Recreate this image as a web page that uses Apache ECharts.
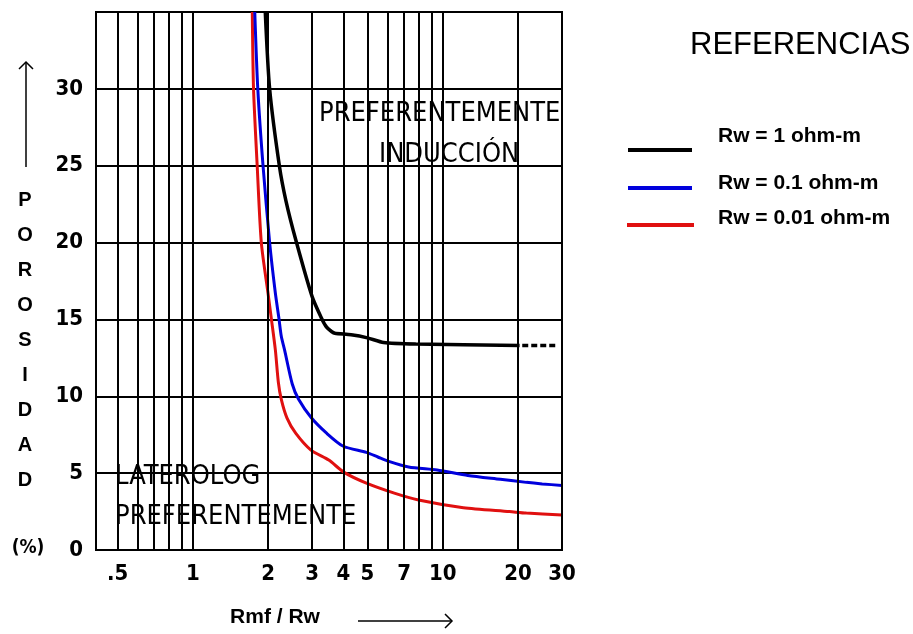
<!DOCTYPE html>
<html><head><meta charset="utf-8">
<script src="https://cdn.jsdelivr.net/npm/echarts@6/dist/echarts.min.js"></script>
<style>html,body{margin:0;padding:0;background:#fff}#c{width:913px;height:634px}</style>
</head><body><div id="c"></div>
<script>
// x grid lines and tick labels (Rmf / Rw, log scale)
const xGridValues = [0.5,0.6,0.7,0.8,0.9,1,2,3,4,5,6,7,8,9,10,20,30];
const xLabelValues = [0.5,1,2,3,4,5,7,10,20,30];
const xLabelTexts = ['.5','1','2','3','4','5','7','10','20','30'];
// y ticks (porosidad %)
const yMin = 0, yMax = 35, yStep = 5;

// Rw = 1 ohm-m (black)
const rw1X = [1.95,2.03,2.22,2.36,2.59,3.0,3.27,3.43,3.6,3.7,4.3,5.0,5.8,7.8,20.3];
const rw1Y = [35,30,25,22.7,20.1,16.5,15.1,14.5,14.2,14.1,14.0,13.8,13.5,13.4,13.3];
// Rw = 1 ohm-m dotted extension
const rw1DotX = [20.8,28.8];
const rw1DotY = [13.3,13.3];
// Rw = 0.1 ohm-m (blue)
const rw01X = [1.77,1.82,1.91,2.03,2.14,2.21,2.26,2.33,2.5,2.65,2.98,3.43,4.0,4.95,5.5,6.0,7.3,9.5,12.6,17,21.6,25,30];
const rw01Y = [35,30,25,20,16.7,15.1,13.9,13.0,10.8,9.8,8.6,7.6,6.75,6.35,6.05,5.8,5.4,5.2,4.85,4.6,4.4,4.3,4.2];
// Rw = 0.01 ohm-m (red)
const rw001X = [1.73,1.75,1.81,1.88,2.0,2.06,2.14,2.2,2.26,2.38,2.58,2.97,3.5,4.03,4.95,6.4,8,12.1,18.5,21.6,30];
const rw001Y = [35,30,25,20,16.7,15.1,13,10.9,9.8,8.6,7.6,6.5,5.85,5.05,4.35,3.7,3.25,2.75,2.5,2.4,2.27];

const legendNames = ['Rw = 1 ohm-m','Rw = 0.1 ohm-m','Rw = 0.01 ohm-m'];
const legendColors = ['#000000','#0000dd','#e01010'];

const NARROW = "'Liberation Sans Narrow','Arial Narrow','DejaVu Sans Condensed','Liberation Sans',sans-serif";
const SANS = "'Liberation Sans',Arial,sans-serif";

const pairs = (xs, ys) => xs.map((x, i) => [x, ys[i]]);

const chart = echarts.init(document.getElementById('c'), null, {renderer: 'canvas'});

const gridMarkData = xGridValues.map(v => {
  const i = xLabelValues.indexOf(v);
  return [{coord: [v, yMin], name: i >= 0 ? xLabelTexts[i] : ''}, {coord: [v, yMax]}];
});

const curve = (name, xs, ys, color, width, z) => ({
  name, type: 'line', data: pairs(xs, ys), smooth: 0.25, showSymbol: false, z,
  lineStyle: {color, width}
});

const option = {
  backgroundColor: '#fff',
  animation: false,
  grid: {left: 96, right: 351, top: 12, bottom: 84, show: true, borderColor: '#000', borderWidth: 2, backgroundColor: 'transparent'},
  xAxis: {
    type: 'log', logBase: 10, min: 0.41, max: 30,
    axisLine: {show: false}, axisTick: {show: false}, axisLabel: {show: false}, splitLine: {show: false}
  },
  yAxis: {
    type: 'value', min: yMin, max: yMax, interval: yStep,
    axisLine: {show: false}, axisTick: {show: false},
    axisLabel: {showMaxLabel: false, color: '#000', fontWeight: 'bold', fontSize: 22, fontFamily: NARROW, margin: 13},
    splitLine: {show: true, lineStyle: {color: '#000', width: 2}}
  },
  series: [
    {
      name: 'grid', type: 'line', data: [], clip: false, z: 1, silent: true,
      markLine: {
        silent: true, symbol: ['none','none'], animation: false,
        lineStyle: {color: '#000', width: 2, type: 'solid'},
        label: {show: true, position: 'start', distance: 13, formatter: p => p.name || '',
                color: '#000', fontWeight: 'bold', fontSize: 22, fontFamily: NARROW},
        emphasis: {disabled: true},
        data: gridMarkData
      }
    },
    curve(legendNames[2], rw001X, rw001Y, legendColors[2], 3, 3),
    curve(legendNames[1], rw01X, rw01Y, legendColors[1], 3, 4),
    curve(legendNames[0], rw1X, rw1Y, legendColors[0], 3.5, 5),
    {name: legendNames[0] + ' (ext)', type: 'line', data: pairs(rw1DotX, rw1DotY), showSymbol: false, z: 5,
     lineStyle: {color: legendColors[0], width: 3.5, type: [6, 3]}}
  ],
  graphic: [
    // plot annotations
    {type: 'text', left: 319, top: 100, z: 10, style: {text: 'PREFERENTEMENTE', fill: '#000', font: 'normal 27px ' + NARROW}},
    {type: 'text', left: 379, top: 141, z: 10, style: {text: 'INDUCCIÓN', fill: '#000', font: 'normal 27px ' + NARROW}},
    {type: 'text', left: 115, top: 463, z: 10, style: {text: 'LATEROLOG', fill: '#000', font: 'normal 27px ' + NARROW}},
    {type: 'text', left: 115, top: 503, z: 10, style: {text: 'PREFERENTEMENTE', fill: '#000', font: 'normal 27px ' + NARROW}},
    // legend block
    {type: 'text', left: 690, top: 30, style: {text: 'REFERENCIAS', fill: '#000', font: 'normal 31px ' + SANS}},
    {type: 'line', shape: {x1: 628, y1: 150, x2: 692, y2: 150}, style: {stroke: legendColors[0], lineWidth: 4}},
    {type: 'line', shape: {x1: 628, y1: 188, x2: 692, y2: 188}, style: {stroke: legendColors[1], lineWidth: 4}},
    {type: 'line', shape: {x1: 627, y1: 225, x2: 694, y2: 225}, style: {stroke: legendColors[2], lineWidth: 4}},
    {type: 'text', x: 718, y: 136, style: {text: legendNames[0], fill: '#000', font: 'bold 21px ' + SANS, verticalAlign: 'middle'}},
    {type: 'text', x: 718, y: 183, style: {text: legendNames[1], fill: '#000', font: 'bold 21px ' + SANS, verticalAlign: 'middle'}},
    {type: 'text', x: 718, y: 218, style: {text: legendNames[2], fill: '#000', font: 'bold 21px ' + SANS, verticalAlign: 'middle'}},
    // x axis title + arrow
    {type: 'text', x: 275, y: 617, style: {text: 'Rmf / Rw', fill: '#000', font: 'bold 21px ' + SANS, align: 'center', verticalAlign: 'middle'}},
    {type: 'line', shape: {x1: 358, y1: 621, x2: 452, y2: 621}, style: {stroke: '#000', lineWidth: 1.5}},
    {type: 'polyline', shape: {points: [[445, 614], [452, 621], [445, 628]]}, style: {stroke: '#000', lineWidth: 1.5, fill: null}},
    // y axis title + arrow
    {type: 'line', shape: {x1: 26, y1: 167, x2: 26, y2: 62}, style: {stroke: '#000', lineWidth: 1.5}},
    {type: 'polyline', shape: {points: [[19, 69], [26, 62], [33, 69]]}, style: {stroke: '#000', lineWidth: 1.5, fill: null}},
    {type: 'text', x: 25, y: 183.5, style: {text: 'P\nO\nR\nO\nS\nI\nD\nA\nD', fill: '#000', font: 'bold 20px ' + SANS,
      align: 'center', verticalAlign: 'top', lineHeight: 34.9}},
    {type: 'text', x: 28, y: 548, style: {text: '(%)', fill: '#000', font: 'bold 19px ' + NARROW, align: 'center', verticalAlign: 'middle'}}
  ]
};
chart.setOption(option);
</script>
</body></html>
